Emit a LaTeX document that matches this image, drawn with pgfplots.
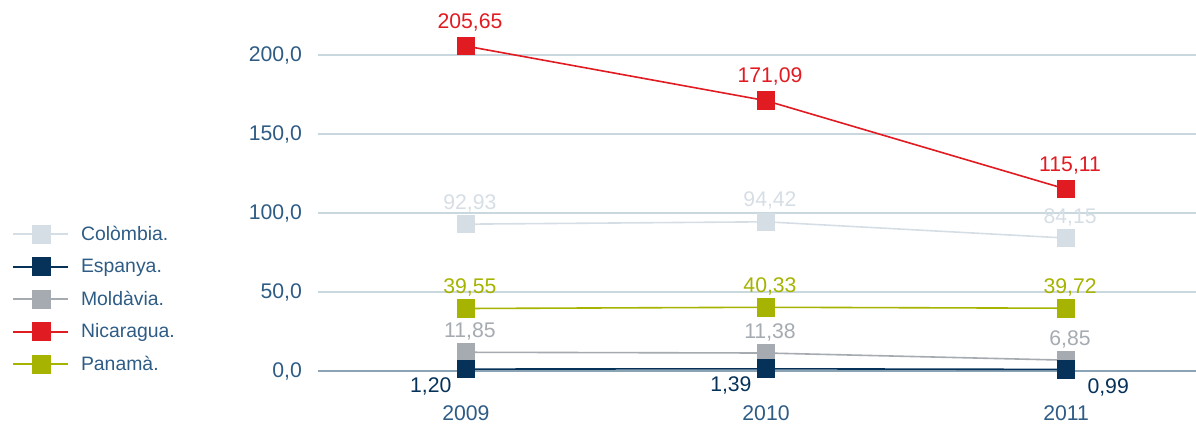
\documentclass[border=0pt]{standalone}
\usepackage{fontspec}
\setmainfont{Liberation Sans}
\usepackage{pgfplots}
\pgfplotsset{compat=1.18}

\definecolor{tickc}{HTML}{2E5C85}
\definecolor{gridc}{HTML}{C9D7DF}
\definecolor{zeroc}{HTML}{8AA3B5}
\definecolor{colc}{HTML}{D6DEE5}
\definecolor{espc}{HTML}{06325A}
\definecolor{molc}{HTML}{A5ABB1}
\definecolor{nicc}{HTML}{E11B22}
\definecolor{panc}{HTML}{A6B300}

\newcommand{\lblfont}{\fontsize{10.6}{12}\selectfont}

\begin{document}
\begin{tikzpicture}
\begin{axis}[
    name=ax,
    scale only axis,
    width=439pt, height=181.7pt,
    xmin=2008.507, xmax=2011.433,
    ymin=0, ymax=230,
    xtick={2009,2010,2011},
    xticklabels={2009,2010,2011},
    ytick={0,50,...,200},
    yticklabel style={/pgf/number format/fixed, /pgf/number format/fixed zerofill,
        /pgf/number format/precision=1, /pgf/number format/use comma},
    /pgf/number format/assume math mode=true,
    axis x line=bottom, axis y line=left,
    x axis line style={-, draw=zeroc, line width=1pt},
    y axis line style={draw=none},
    major tick length=0pt,
    ymajorgrids,
    grid style={gridc, line width=0.75pt},
    tick label style={font=\lblfont, text=tickc},
    y tick label style={xshift=-4.5pt},
    x tick label style={yshift=-14pt},
    clip=false,
    every axis plot/.append style={line width=0.8pt, mark=square*, mark size=4.25pt, mark options={solid}},
    point meta=explicit symbolic,
    nodes near coords,
    every node near coord/.append style={font=\lblfont, anchor=center, xshift=2pt, yshift=10.5pt},
    legend style={at={(axis description cs:-0.3485,0.4045)}, anchor=north west,
        draw=none, fill=none, inner sep=0pt, font=\fontsize{9.7}{11}\selectfont,
        text=tickc, row sep=6.25pt, column sep=5.8pt,
        nodes={inner sep=0pt, text height=8pt, text depth=2pt}},
    legend cell align=left,
    legend image code/.code={\draw[mark repeat=2, mark phase=2, #1, line width=1pt] plot coordinates {(0pt,0pt) (14pt,0pt) (27.5pt,0pt)};},
]
% Colombia
\addplot[colc, mark options={fill=colc, draw=colc}, nodes near coords style={text=colc}]
    coordinates {(2009,92.93)[92,93] (2010,94.42)[94,42] (2011,84.15)[84,15]};
\addlegendentry{Colòmbia.}
% Moldavia (drawn before Espanya)
\addplot[molc, mark options={fill=molc, draw=molc}, nodes near coords style={text=molc}, forget plot]
    coordinates {(2009,11.85)[11,85] (2010,11.38)[11,38] (2011,6.85)[6,85]};
% Espanya
\addplot[espc, mark options={fill=espc, draw=espc},
    nodes near coords style={text=espc, anchor=east, xshift=-5.5pt, yshift=-19pt}]
    coordinates {(2009,1.20)[1,20] (2010,1.39)[1,39] (2011,0.99)[{}]};
\addlegendentry{Espanya.}
\addplot[forget plot, draw=none, mark=none,
    nodes near coords style={text=espc, anchor=west, xshift=5pt, yshift=-19.5pt}]
    coordinates {(2011,0.99)[0,99]};
% legend-only entry for Moldavia (same data)
\addlegendimage{molc, mark options={fill=molc, draw=molc}}
\addlegendentry{Moldàvia.}
% Nicaragua
\addplot[nicc, mark options={fill=nicc, draw=nicc}, nodes near coords style={text=nicc, yshift=1.5pt}]
    coordinates {(2009,205.65)[205,65] (2010,171.09)[171,09] (2011,115.11)[115,11]};
\addlegendentry{Nicaragua.}
% Panama
\addplot[panc, mark options={fill=panc, draw=panc}, nodes near coords style={text=panc}]
    coordinates {(2009,39.55)[39,55] (2010,40.33)[40,33] (2011,39.72)[39,72]};
\addlegendentry{Panamà.}
\end{axis}
\pgfresetboundingbox
\path ([xshift=-159pt,yshift=-27.5pt]ax.south west) rectangle ([yshift=3.8pt]ax.north east);
\end{tikzpicture}
\end{document}
